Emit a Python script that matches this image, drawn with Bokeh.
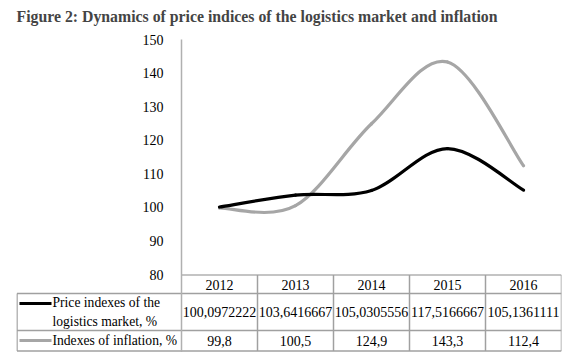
from bokeh.plotting import figure
from bokeh.models import Range1d, FixedTicker
from bokeh.core.properties import value
from bokeh.embed import file_html
from bokeh.resources import INLINE

# ---- data ----
years = ["2012", "2013", "2014", "2015", "2016"]
logistics = [100.0972222, 103.6416667, 105.0305556, 117.5166667, 105.1361111]
inflation = [99.8, 100.5, 124.9, 143.3, 112.4]
logistics_labels = ["100,0972222", "103,6416667", "105,0305556", "117,5166667", "105,1361111"]
inflation_labels = ["99,8", "100,5", "124,9", "143,3", "112,4"]
series_names = ["Price indexes of the\nlogistics market, %", "Indexes of inflation, %"]
y_ticks = [80, 90, 100, 110, 120, 130, 140, 150]

BLACK = "#000000"
GRAY = "#a6a6a6"
GRID = "#a0a0a0"
SERIF = "Liberation Serif"

# layout constants (page pixels)
PAGE = 1               # observed offset of the figure on the page
FRAME_L = 182          # chart y axis
FRAME_R = 562          # chart right edge
TAB_L = 17             # table left edge
FRAME_TOP = 30         # top of drawing frame
TOP = 40               # y=150
AXIS_Y = 275           # y=80
BOTTOM = 353           # bottom of table area
FIG_W = 564
UNIT = (FRAME_R - FRAME_L) / len(years)
K = (AXIS_Y - TOP) / (y_ticks[-1] - y_ticks[0])


def px2x(px):
    return -0.5 + (px - FRAME_L) / UNIT


def bezier(vals):
    n = len(vals)
    pts = [(float(i), float(v)) for i, v in enumerate(vals)]
    out = {k: [] for k in ["x0", "y0", "x1", "y1", "cx0", "cy0", "cx1", "cy1"]}
    for i in range(n - 1):
        p0 = pts[max(i - 1, 0)]
        p1 = pts[i]
        p2 = pts[i + 1]
        p3 = pts[min(i + 2, n - 1)]
        out["x0"].append(p1[0]); out["y0"].append(p1[1])
        out["x1"].append(p2[0]); out["y1"].append(p2[1])
        out["cx0"].append(p1[0] + (p2[0] - p0[0]) / 6)
        out["cy0"].append(p1[1] + (p2[1] - p0[1]) / 6)
        out["cx1"].append(p2[0] - (p3[0] - p1[0]) / 6)
        out["cy1"].append(p2[1] - (p3[1] - p1[1]) / 6)
    return out


y_bottom = y_ticks[0] - (BOTTOM - AXIS_Y) / K
y_top = y_ticks[-1] + (TOP - FRAME_TOP) / K
p = figure(width=FIG_W, height=(FRAME_TOP - PAGE) + (BOTTOM - FRAME_TOP), output_backend="svg",
           toolbar_location=None,
           x_range=Range1d(px2x(TAB_L), len(years) - 0.5),
           y_range=Range1d(y_bottom, y_top),
           min_border_left=TAB_L - PAGE, min_border_right=(PAGE + FIG_W) - FRAME_R,
           min_border_top=FRAME_TOP - PAGE, min_border_bottom=0,
           title="Figure 2: Dynamics of price indices of the logistics market and inflation")
p.extra_y_ranges = {"tab": Range1d(BOTTOM, FRAME_TOP)}
p.title.text_font = SERIF
p.title.text_font_size = "15.8px"
p.title.text_font_style = "bold"
p.title.align = "left"
p.title.offset = 0
p.title.standoff = 9
p.outline_line_color = None
p.xaxis.visible = False
p.xgrid.visible = False
p.ygrid.visible = False
p.yaxis.fixed_location = -0.5
p.yaxis.bounds = (y_bottom, y_ticks[-1])
p.yaxis.ticker = FixedTicker(ticks=y_ticks)
p.yaxis.axis_line_color = "#b0b0b0"
p.yaxis.axis_line_width = 1.5
p.yaxis.major_tick_line_color = None
p.yaxis.minor_tick_line_color = None
p.yaxis.major_label_text_font = SERIF
p.yaxis.major_label_text_font_size = "14px"
p.yaxis.major_label_text_color = "#000000"
p.yaxis.major_label_standoff = 12

for vals, col in [(inflation, GRAY), (logistics, BLACK)]:
    b = bezier(vals)
    p.bezier(x0=b["x0"], y0=b["y0"], x1=b["x1"], y1=b["y1"],
             cx0=b["cx0"], cy0=b["cy0"], cx1=b["cx1"], cy1=b["cy1"],
             line_color=col, line_width=3.2, line_cap="round")

# ---- data table below the chart ----
ROW0, ROW1, ROW2, ROW3 = 275.5, 294, 331, 351.5
n = len(years)
xr = px2x(FRAME_R)
p.segment(x0=[-0.5], y0=[ROW0], x1=[xr], y1=[ROW0], line_color="#b0b0b0", line_width=1.5, y_range_name="tab")
p.segment(x0=[px2x(TAB_L + 0.5)] * 3, y0=[ROW1, ROW2, ROW3], x1=[xr] * 3, y1=[ROW1, ROW2, ROW3],
          line_color=GRID, line_width=1.5, y_range_name="tab")
bx = [i + 0.5 for i in range(n)]
p.segment(x0=bx, y0=[ROW0] * len(bx), x1=bx, y1=[ROW3] * len(bx), line_color=GRID, line_width=1.5,
          y_range_name="tab")
p.segment(x0=[px2x(TAB_L + 0.5)], y0=[ROW1], x1=[px2x(TAB_L + 0.5)], y1=[ROW3], line_color=GRID,
          line_width=1.5, y_range_name="tab")

xs = list(range(n))
for labels, yy in [(years, (ROW0 + ROW1) / 2 + 0.5), (logistics_labels, (ROW1 + ROW2) / 2),
                   (inflation_labels, (ROW2 + ROW3) / 2)]:
    p.text(x=xs, y=[yy] * n, text=labels, text_font=value(SERIF), text_font_size="14px",
           text_align="center", text_baseline="middle", text_color="#000000", y_range_name="tab")

# legend keys + series names
p.segment(x0=[px2x(20)] * 2, y0=[304, 341], x1=[px2x(52)] * 2, y1=[304, 341],
          line_color=[BLACK, GRAY], line_width=3.2, y_range_name="tab")
p.text(x=[px2x(53)] * 2, y=[(ROW1 + ROW2) / 2, (ROW2 + ROW3) / 2], text=series_names,
       text_font=value(SERIF), text_font_size="13.6px", text_align="left", text_baseline="middle",
       text_color="#000000", text_line_height=1.25, y_range_name="tab")

open("out.html", "w").write(file_html(p, INLINE))
